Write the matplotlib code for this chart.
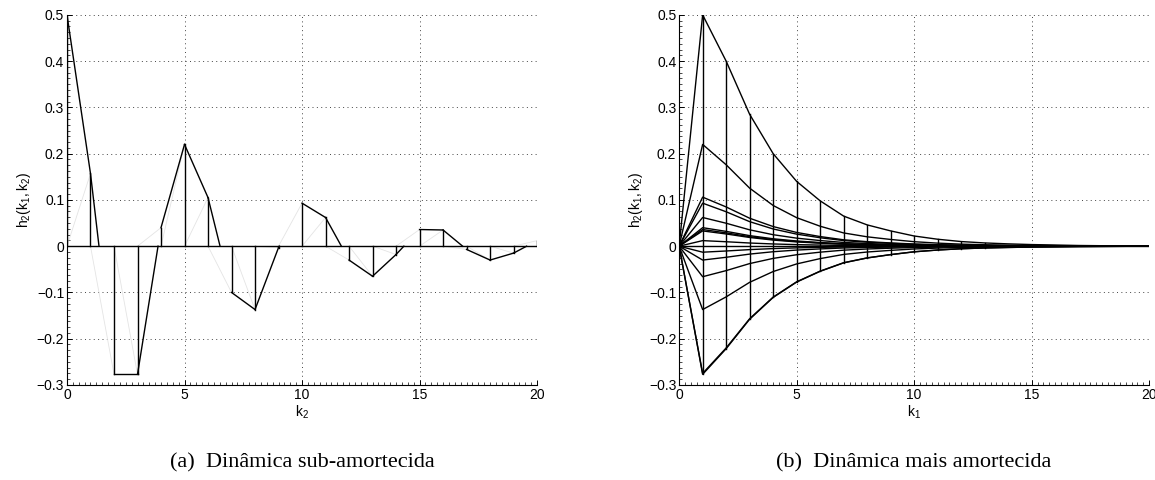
import numpy as np
import matplotlib
matplotlib.use('Agg')
import matplotlib.pyplot as plt
from matplotlib.ticker import MultipleLocator, FuncFormatter

plt.rcParams['font.family'] = ['Liberation Sans', 'DejaVu Sans']
plt.rcParams['mathtext.fontset'] = 'custom'
plt.rcParams['mathtext.rm'] = 'Liberation Sans'
plt.rcParams['mathtext.it'] = 'Liberation Sans:italic'

# (a) underdamped: h2 at k1 = 1 for each k2
k2 = np.arange(21)
h_sub = [0.5, 0.157, -0.277, -0.277, 0.04, 0.22, 0.105, -0.1, -0.137, -0.003,
         0.093, 0.062, -0.03, -0.065, -0.018, 0.036, 0.035, -0.007, -0.03,
         -0.015, 0.012]

# (b) more damped: decay along k1 and amplitude of each k2 slice at k1 = 1
k1 = np.arange(21)
decay = [0.0, 1.0, 0.8, 0.57, 0.40, 0.28, 0.196, 0.13, 0.092, 0.066, 0.044,
         0.03, 0.02, 0.014, 0.01, 0.007, 0.005, 0.003, 0.002, 0.001, 0.0]
amp = [0.5, 0.22, 0.106, 0.093, 0.062, 0.04, 0.036, 0.033, 0.012, 0.0,
       -0.013, -0.030, -0.066, -0.137, -0.275, -0.277]

captions = ['(a)  Dinâmica sub-amortecida', '(b)  Dinâmica mais amortecida']
xlabels = [r'$\mathregular{k_2}$', r'$\mathregular{k_1}$']
ylabel = r'$\mathregular{h_2(k_1,k_2)}$'

fig = plt.figure(figsize=(11.55, 4.8), dpi=100)
ax1 = fig.add_axes([0.058, 0.198, 0.407, 0.771])
ax2 = fig.add_axes([0.588, 0.198, 0.407, 0.771])

lw = 1.0

# left panel
for i in range(20):
    ax1.plot([k2[i], k2[i + 1]], [0, h_sub[i + 1]], color='#e4e4e4', lw=0.6, zorder=2)
ax1.plot(k2, np.zeros(len(k2)), color='k', lw=lw, zorder=3)
for i in range(21):
    ax1.plot([k2[i], k2[i]], [0, h_sub[i]], color='k', lw=lw, zorder=3)
for i in range(20):
    a, b = h_sub[i], h_sub[i + 1]
    if a * b < 0:
        xc = k2[i] + a / (a - b)
        ax1.plot([k2[i], xc], [a, 0], color='k', lw=lw, zorder=3)
    else:
        ax1.plot([k2[i], k2[i + 1]], [a, b], color='k', lw=lw, zorder=3)

# right panel
H = np.outer(amp, decay)
for row in H:
    ax2.plot(k1, row, color='k', lw=lw, zorder=3)
for j in range(1, 14):
    ax2.plot([k1[j], k1[j]], [H[:, j].min(), H[:, j].max()], color='k', lw=lw, zorder=3)

fmt = FuncFormatter(lambda v, p: ('%g' % round(v, 3)).replace('-', '\u2212'))
for ax, xl, cap in zip([ax1, ax2], xlabels, captions):
    ax.set_xlim(0, 20)
    ax.set_ylim(-0.3, 0.5)
    ax.xaxis.set_major_locator(MultipleLocator(5))
    ax.yaxis.set_major_locator(MultipleLocator(0.1))
    ax.xaxis.set_minor_locator(MultipleLocator(0.25))
    ax.yaxis.set_minor_locator(MultipleLocator(0.0125))
    ax.yaxis.set_major_formatter(fmt)
    ax.xaxis.set_major_formatter(fmt)
    ax.tick_params(which='both', direction='in', labelsize=10, pad=2,
                   top=False, right=False)
    ax.tick_params(which='major', length=3.5, width=0.7)
    ax.tick_params(which='minor', length=2, width=0.5)
    for s in ['top', 'right']:
        ax.spines[s].set_visible(False)
    for s in ['left', 'bottom']:
        ax.spines[s].set_linewidth(0.8)
    ax.grid(True, which='major', color='#444444', lw=0.7, linestyle=(0, (1, 3.5)))
    ax.set_axisbelow(True)
    ax.set_xlabel(xl, fontsize=10, labelpad=1)
    ax.set_ylabel(ylabel, fontsize=10, labelpad=3)
    bb = ax.get_position()
    fig.text(bb.x0 + bb.width / 2, 0.035, cap, ha='center', va='center',
             fontsize=16, family='Liberation Serif')

fig.savefig('out.png', dpi=100)
